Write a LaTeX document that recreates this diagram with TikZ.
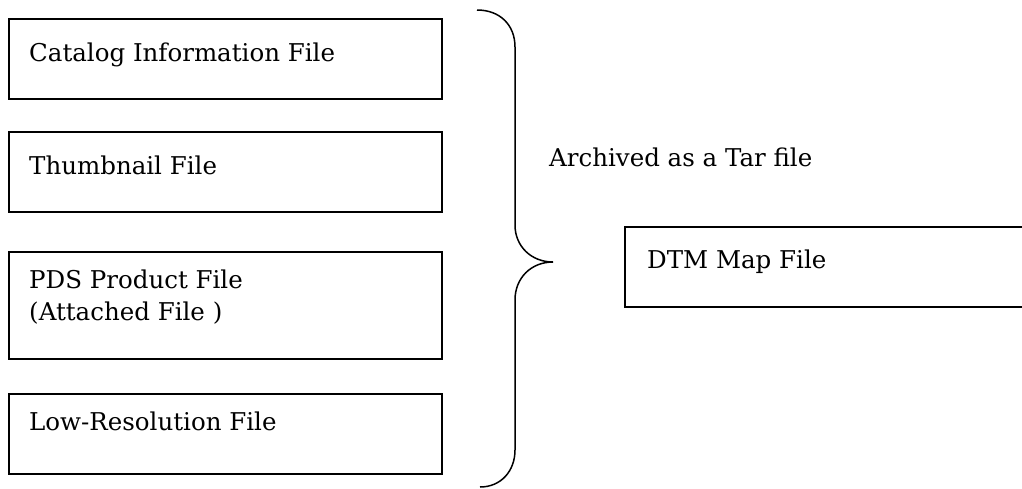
\documentclass[tikz,border=0pt]{standalone}
\usepackage{fontspec}
\setmainfont{DejaVu Serif}
\begin{document}
\begin{tikzpicture}[x=1pt,y=-1pt,
  filebox/.style={draw=black,line width=1.6pt,rectangle,inner sep=0pt,anchor=north west},
  txt/.style={anchor=base west,inner sep=0pt,font=\fontsize{24.5}{29}\selectfont},
  bracepath/.style={draw=black,line width=1.5pt}]
\useasboundingbox (0,0) rectangle (1022,488);
\clip (0,0) rectangle (1022,488);
\node[filebox,minimum width=433pt,minimum height=80pt] (b1) at (8,18) {};
\node[txt] (t1) at (29,61) {Catalog Information File};
\node[filebox,minimum width=433pt,minimum height=80pt] (b2) at (8,131) {};
\node[txt] (t2) at (29,174) {Thumbnail File};
\node[filebox,minimum width=433pt,minimum height=107pt] (b3) at (8,251) {};
\node[txt] (t3) at (29,288) {PDS Product File};
\node[txt] (t3b) at (29,320) {(Attached File )};
\node[filebox,minimum width=433pt,minimum height=80pt] (b4) at (8,393) {};
\node[txt] (t4) at (29,430) {Low-Resolution File};
\node[filebox,minimum width=430pt,minimum height=80pt] (dtm) at (624,226) {};
\node[txt] (t5) at (647,268) {DTM Map File};
\node[txt] (arch) at (549,166) {Archived as a Tar file};
\draw[bracepath] (477,10) .. controls (500,10) and (515,25) .. (515,47)
  -- (515,225) .. controls (515,246) and (531,262) .. (553,262)
  .. controls (531,262) and (515,278) .. (515,300)
  -- (515,450) .. controls (515,471) and (501,487) .. (480,487);
\end{tikzpicture}
\end{document}
